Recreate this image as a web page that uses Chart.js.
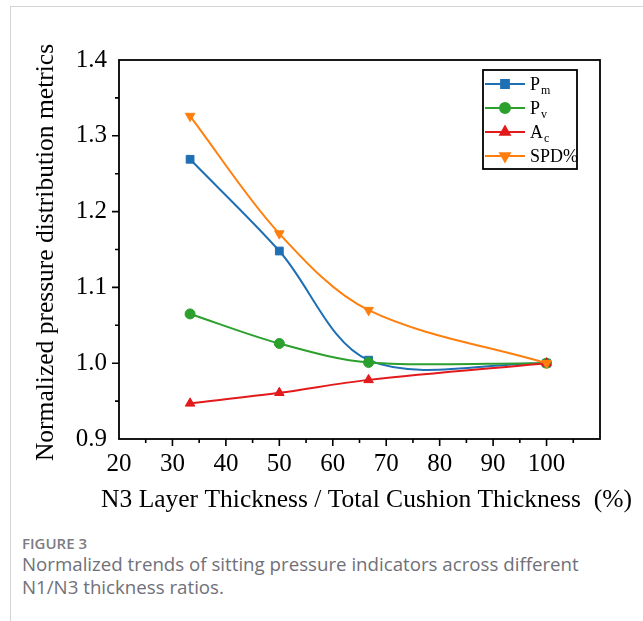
<!DOCTYPE html>
<html>
<head>
<meta charset="utf-8">
<script src="https://cdn.jsdelivr.net/npm/chart.js"></script>
<style>
  body { margin: 0; background: #fff; width: 643px; height: 621px; overflow: hidden; position: relative; }
  .rule-top { position: absolute; left: 10px; top: 6px; right: 0; height: 1px; background: #d4d4d4; }
  .rule-left { position: absolute; left: 10px; top: 6px; bottom: 0; width: 1px; background: #d4d4d4; }
  #c { position: absolute; left: 0; top: 0; }
  .caption { position: absolute; left: 22px; top: 535px; font-family: "Open Sans", sans-serif; }
  .caption .fig { font-size: 15px; line-height: 17px; font-weight: 600; color: #7c7c84; }
  .caption .txt { font-size: 18.7px; line-height: 23px; color: #707078; }
</style>
</head>
<body>
<div class="rule-top"></div>
<div class="rule-left"></div>
<canvas id="c" width="643" height="530"></canvas>
<div class="caption">
  <div class="fig">FIGURE 3</div>
  <div class="txt">Normalized trends of sitting pressure indicators across different<br>N1/N3 thickness ratios.</div>
</div>
<script>
// N3 layer share of total cushion thickness (%)
var ratios = [33.3, 50, 66.7, 100];

var pmValues = [1.269, 1.148, 1.004, 1.0];
var pvValues = [1.065, 1.026, 1.001, 1.0];
var acValues = [0.947, 0.961, 0.978, 1.0];
var spdValues = [1.326, 1.171, 1.070, 1.0];

var seriesMain = ["P", "P", "A", "SPD%"];
var seriesSub = ["m", "v", "c", ""];
var seriesColors = ["#1f6fb4", "#2ca02c", "#e31a1c", "#ff7f0e"];

var xTitle = 'N3 Layer Thickness / Total Cushion Thickness  (%)';
var yTitle = 'Normalized pressure distribution metrics';

var serif = "'Liberation Serif', 'Times New Roman', serif";

function toPoints(values) {
    return ratios.map(function (r, i) { return { x: r, y: values[i] }; });
}

function isMajor(v, step) {
    return Math.abs(Math.round(v / step) * step - v) < 1e-6;
}

// box frame + outward tick marks (long for labelled ticks, short for the in-between ones)
var frameTicks = {
    id: 'frameTicks',
    afterDraw: function (chart) {
        var ctx = chart.ctx, a = chart.chartArea;
        var xs = chart.scales.x, ys = chart.scales.y;
        ctx.save();
        ctx.strokeStyle = '#000';
        ctx.lineWidth = 1.8;
        ctx.strokeRect(a.left, a.top, a.right - a.left, a.bottom - a.top);
        ctx.lineWidth = 1.6;
        ctx.beginPath();
        xs.ticks.forEach(function (t) {
            if (t.value <= xs.min || t.value >= xs.max) return;
            var px = xs.getPixelForValue(t.value);
            var len = isMajor(t.value, 10) ? 7 : 4;
            ctx.moveTo(px, a.bottom);
            ctx.lineTo(px, a.bottom + len);
        });
        ys.ticks.forEach(function (t) {
            if (t.value <= ys.min + 1e-9 || t.value >= ys.max - 1e-9) return;
            var py = ys.getPixelForValue(t.value);
            var len = isMajor(t.value, 0.1) ? 7 : 4;
            ctx.moveTo(a.left, py);
            ctx.lineTo(a.left - len, py);
        });
        ctx.stroke();

        // axis titles drawn here so the long text is not squeezed to the axis length
        ctx.fillStyle = '#000';
        ctx.font = '25.5px ' + serif;
        ctx.textAlign = 'center';
        ctx.textBaseline = 'alphabetic';
        ctx.fillText(xTitle, (a.left + a.right) / 2 + 7, a.bottom + 68);
        ctx.translate(53, (a.top + a.bottom) / 2 + 3);
        ctx.rotate(-Math.PI / 2);
        ctx.fillText(yTitle, 0, 0);
        ctx.restore();
    }
};

// legend with subscripts, boxed in the top-right corner
var subLegend = {
    id: 'subLegend',
    afterDraw: function (chart) {
        var ctx = chart.ctx, a = chart.chartArea;
        var boxW = 94, boxH = 99;
        var left = a.right - 23 - boxW, top = a.top + 10;
        ctx.save();
        ctx.fillStyle = '#fff';
        ctx.fillRect(left, top, boxW, boxH);
        ctx.strokeStyle = '#000';
        ctx.lineWidth = 1.8;
        ctx.strokeRect(left, top, boxW, boxH);
        chart.data.datasets.forEach(function (ds, i) {
            var yy = top + 14 + i * 24;
            ctx.strokeStyle = ds.borderColor;
            ctx.lineWidth = 2;
            ctx.beginPath();
            ctx.moveTo(left + 2, yy);
            ctx.lineTo(left + 42, yy);
            ctx.stroke();
            ctx.fillStyle = ds.borderColor;
            Chart.helpers.drawPoint(ctx, {
                pointStyle: ds.pointStyle,
                radius: ds.pointRadius,
                rotation: ds.pointRotation || 0,
                borderWidth: 1
            }, left + 22, yy);
            ctx.fillStyle = '#000';
            ctx.textBaseline = 'alphabetic';
            ctx.font = '18px ' + serif;
            var tx = left + 47;
            ctx.fillText(seriesMain[i], tx, yy + 6);
            if (seriesSub[i]) {
                var w = ctx.measureText(seriesMain[i]).width;
                ctx.font = '12px ' + serif;
                ctx.fillText(seriesSub[i], tx + w + 1, yy + 10);
            }
        });
        ctx.restore();
    }
};

function makeSet(label, values, color, style, radius, rotation, order) {
    return {
        label: label,
        data: toPoints(values),
        borderColor: color,
        backgroundColor: color,
        pointBackgroundColor: color,
        pointBorderColor: color,
        borderWidth: 2,
        pointStyle: style,
        pointRadius: radius,
        pointRotation: rotation,
        pointBorderWidth: 1,
        tension: 0.33,
        order: order
    };
}

var chart = new Chart(document.getElementById('c'), {
    type: 'line',
    data: {
        datasets: [
            makeSet('Pm', pmValues, seriesColors[0], 'rect', 5.5, 0, 4),
            makeSet('Pv', pvValues, seriesColors[1], 'circle', 5, 0, 3),
            makeSet('Ac', acValues, seriesColors[2], 'triangle', 5.5, 0, 2),
            makeSet('SPD%', spdValues, seriesColors[3], 'triangle', 5.5, 180, 1)
        ]
    },
    options: {
        responsive: false,
        animation: false,
        devicePixelRatio: 1,
        layout: { padding: { left: 0, top: 60, right: 43, bottom: 0 } },
        plugins: {
            legend: { display: false },
            tooltip: { enabled: false }
        },
        scales: {
            x: {
                type: 'linear',
                min: 20,
                max: 110,
                afterFit: function (s) { s.height = 91; },
                grid: { display: false, drawTicks: false },
                border: { display: false },
                ticks: {
                    stepSize: 5,
                    autoSkip: false,
                    maxRotation: 0,
                    padding: 10,
                    color: '#000',
                    font: { family: serif, size: 25 },
                    callback: function (v) {
                        return (isMajor(v, 10) && v <= 100) ? String(Math.round(v)) : '';
                    }
                }
            },
            y: {
                min: 0.9,
                max: 1.4,
                afterFit: function (s) { s.width = 119; },
                grid: { display: false, drawTicks: false },
                border: { display: false },
                ticks: {
                    stepSize: 0.05,
                    autoSkip: false,
                    padding: 12,
                    color: '#000',
                    font: { family: serif, size: 25 },
                    callback: function (v) {
                        return isMajor(v, 0.1) ? v.toFixed(1) : '';
                    }
                }
            }
        }
    },
    plugins: [frameTicks, subLegend]
});
</script>
</body>
</html>
